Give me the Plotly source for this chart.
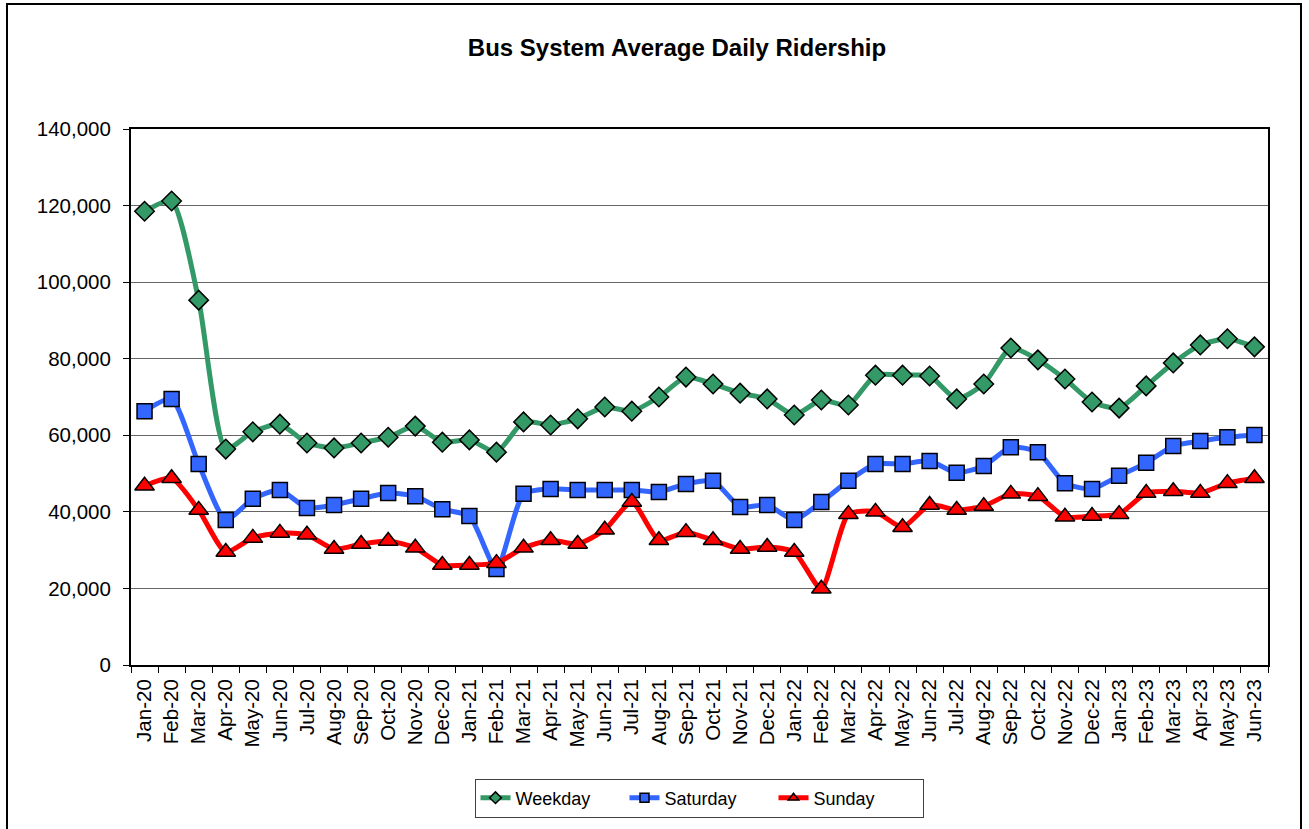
import plotly.graph_objects as go

months = ["Jan-20","Feb-20","Mar-20","Apr-20","May-20","Jun-20","Jul-20","Aug-20","Sep-20","Oct-20","Nov-20","Dec-20",
          "Jan-21","Feb-21","Mar-21","Apr-21","May-21","Jun-21","Jul-21","Aug-21","Sep-21","Oct-21","Nov-21","Dec-21",
          "Jan-22","Feb-22","Mar-22","Apr-22","May-22","Jun-22","Jul-22","Aug-22","Sep-22","Oct-22","Nov-22","Dec-22",
          "Jan-23","Feb-23","Mar-23","Apr-23","May-23","Jun-23"]

weekday = [118500, 121200, 95300, 56400, 60900, 62900, 58000, 56700, 58000, 59500, 62400, 58200,
           58800, 55600, 63500, 62700, 64300, 67400, 66300, 70000, 75200, 73400, 71000, 69500,
           65300, 69200, 67900, 75700, 75700, 75500, 69500, 73400, 82800, 79700, 74700, 68700,
           67100, 72900, 78900, 83600, 85200, 83100]

saturday = [66300, 69500, 52500, 37900, 43400, 45700, 41000, 41800, 43400, 44900, 44100, 40700,
            38900, 25100, 44700, 46000, 45700, 45700, 45700, 45200, 47300, 48100, 41300, 41800,
            37900, 42600, 48100, 52500, 52500, 53300, 50200, 52000, 56900, 55600, 47500, 46000,
            49400, 52800, 57200, 58500, 59500, 60100]

sunday = [46800, 48800, 40500, 29500, 33200, 34500, 34000, 30300, 31600, 32400, 30600, 26100,
          26100, 26600, 30600, 32600, 31600, 35300, 42600, 32600, 34700, 32600, 30300, 30800,
          29500, 19900, 39400, 40000, 36000, 41800, 40500, 41500, 44700, 44100, 38700, 38900,
          39400, 44900, 45400, 44900, 47500, 48800]

series = [
    ("Weekday", weekday, "#339966", "diamond", 15),
    ("Saturday", saturday, "#3366FF", "square", 15),
    ("Sunday", sunday, "#FF0000", "triangle-up", 17),
]

fig = go.Figure()
for name, vals, color, sym, size in series:
    fig.add_trace(go.Scatter(
        x=months, y=vals, name=name, mode="lines+markers", showlegend=False,
        line=dict(color=color, width=5, shape="spline", smoothing=0.6),
        marker=dict(symbol=sym, size=size, color=color, line=dict(color="black", width=1.5)),
    ))
# legend entries with smaller markers (like the original legend)
for name, vals, color, sym, size in series:
    fig.add_trace(go.Scatter(
        x=[None], y=[None], name=name, mode="lines+markers", showlegend=True,
        line=dict(color=color, width=5),
        marker=dict(symbol=sym, size=9, color=color, line=dict(color="black", width=1.5)),
    ))

W, H = 1309, 829
L, R, T, B = 131, 1268, 129, 665
pw, ph = R - L, B - T

def px(x):
    return (x - L) / pw

def py(y):
    return (B - y) / ph

fig.update_layout(
    width=W, height=H,
    margin=dict(l=L, r=W - R, t=T, b=H - B),
    paper_bgcolor="white", plot_bgcolor="white",
    font=dict(family="Arial, Liberation Sans, sans-serif", color="black"),
    title=dict(text="<b>Bus System Average Daily Ridership</b>", x=677 / W, xanchor="center",
               y=1 - 48 / H, yanchor="middle", font=dict(size=24)),
    showlegend=True,
    legend=dict(orientation="h", x=px(699), xanchor="center", y=py(798), yanchor="middle",
                bordercolor="#404040", borderwidth=1, font=dict(size=18),
                tracegroupgap=0, entrywidth=104, entrywidthmode="pixels"),
    xaxis=dict(
        type="category", range=[-0.5, len(months) - 0.5],
        tickangle=-90, tickfont=dict(size=20.5), ticks="outside", ticklen=6,
        tickson="boundaries", tickcolor="black", ticklabelstandoff=4,
        showline=True, linecolor="black", linewidth=2, mirror=True,
        showgrid=False,
    ),
    yaxis=dict(
        range=[0, 140000], dtick=20000, tickformat=",", tickfont=dict(size=20.5),
        ticks="outside", ticklen=6, tickcolor="black", ticklabelstandoff=8,
        showline=True, linecolor="black", linewidth=2, mirror=True,
        showgrid=True, gridcolor="#666666", gridwidth=1, zeroline=False,
    ),
    shapes=[dict(type="rect", xref="paper", yref="paper",
                 x0=px(7), x1=px(1301), y0=py(840), y1=py(4),
                 line=dict(color="black", width=2), fillcolor="rgba(0,0,0,0)", layer="below")],
)

fig.write_html("out.html")
